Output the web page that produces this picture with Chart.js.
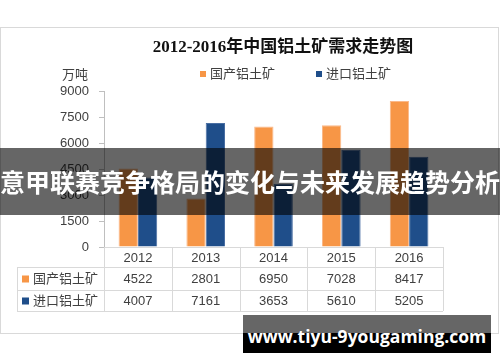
<!DOCTYPE html>
<html>
<head>
<meta charset="utf-8">
<script src="https://cdn.jsdelivr.net/npm/chart.js@4"></script>
<style>
    html, body { margin: 0; padding: 0; background: #fff; }
    #wrap { position: relative; width: 500px; height: 362px; overflow: hidden; }
    #banner {
        position: absolute; left: 0; top: 148px; width: 500px; height: 67px;
        background: rgba(0, 0, 0, 0.6); color: #fff;
        font: bold 25px "Noto Sans CJK SC", sans-serif;
        line-height: 67px; text-align: center; white-space: nowrap;
    }
    #site {
        position: absolute; left: 243px; top: 315px; width: 248px; height: 38px;
        background: linear-gradient(#666 0, #666 18px, #000 18px, #000 100%);
        color: #fff; font: bold 17.5px "Open Sans", sans-serif;
        line-height: 42px; text-align: center; white-space: nowrap;
    }
</style>
</head>
<body>
<div id="wrap">
    <canvas id="chart" width="500" height="362"></canvas>
    <div id="banner">意甲联赛竞争格局的变化与未来发展趋势分析</div>
    <div id="site">www.tiyu-9yougaming.com</div>
</div>
<script>
// Chart data
const years = ['2012', '2013', '2014', '2015', '2016'];
const domesticOre = [4522, 2801, 6950, 7028, 8417];
const importedOre = [4007, 7161, 3653, 5610, 5205];
const seriesNames = ['国产铝土矿', '进口铝土矿'];
const titleText = '2012-2016年中国铝土矿需求走势图';
const unitText = '万吨';

const ORANGE = '#F79646';
const BLUE = '#1F4E8A';
const LINE = '#d9d9d9';
const TEXT = '#404040';
const FONT = '"Liberation Sans", "Noto Sans CJK SC", sans-serif';

// Frame, title, legend and unit label
const decorPlugin = {
    id: 'decor',
    beforeDraw(chart) {
        const ctx = chart.ctx;
        ctx.save();
        ctx.strokeStyle = LINE;
        ctx.lineWidth = 1;
        ctx.strokeRect(0.5, 27.5, 498, 306);

        ctx.fillStyle = '#111';
        ctx.font = 'bold 17px "Liberation Serif", "Noto Sans CJK SC", serif';
        ctx.textAlign = 'center';
        ctx.textBaseline = 'middle';
        ctx.fillText(titleText, 283, 48);

        ctx.font = '13px ' + FONT;
        ctx.textAlign = 'right';
        ctx.fillStyle = TEXT;
        ctx.fillText(unitText, 88, 75);

        const legendX = [200, 316];
        ctx.textAlign = 'left';
        seriesNames.forEach((name, i) => {
            ctx.fillStyle = i === 0 ? ORANGE : BLUE;
            ctx.fillRect(legendX[i], 71, 6, 6);
            ctx.fillStyle = TEXT;
            ctx.fillText(name, legendX[i] + 10, 74);
        });
        ctx.restore();
    },
    // Data table under the plot, aligned to the x scale
    afterDraw(chart) {
        const ctx = chart.ctx;
        const x = chart.scales.x;
        const area = chart.chartArea;
        const half = (area.right - area.left) / years.length / 2;
        const rows = [area.bottom, area.bottom + 20, area.bottom + 43, area.bottom + 64];
        const tableLeft = 17;

        ctx.save();
        ctx.strokeStyle = LINE;
        ctx.lineWidth = 1;
        ctx.beginPath();
        ctx.moveTo(area.left, rows[0] + 0.5);
        ctx.lineTo(area.right, rows[0] + 0.5);
        for (let r = 1; r < rows.length; r++) {
            ctx.moveTo(tableLeft, rows[r] + 0.5);
            ctx.lineTo(area.right, rows[r] + 0.5);
        }
        ctx.moveTo(tableLeft + 0.5, rows[1]);
        ctx.lineTo(tableLeft + 0.5, rows[3]);
        for (let i = 0; i <= years.length; i++) {
            const px = Math.round(area.left + i * half * 2) + 0.5;
            ctx.moveTo(px, rows[0]);
            ctx.lineTo(px, rows[3]);
        }
        ctx.stroke();

        ctx.font = '13px ' + FONT;
        ctx.fillStyle = TEXT;
        ctx.textAlign = 'center';
        ctx.textBaseline = 'middle';
        years.forEach((year, i) => {
            const cx = x.getPixelForValue(i);
            ctx.fillText(year, cx, (rows[0] + rows[1]) / 2 + 1);
            ctx.fillText(String(domesticOre[i]), cx, (rows[1] + rows[2]) / 2 + 1);
            ctx.fillText(String(importedOre[i]), cx, (rows[2] + rows[3]) / 2 + 1);
        });

        ctx.textAlign = 'left';
        seriesNames.forEach((name, i) => {
            const cy = (rows[i + 1] + rows[i + 2]) / 2;
            ctx.fillStyle = i === 0 ? ORANGE : BLUE;
            ctx.fillRect(22, cy - 3, 7, 7);
            ctx.fillStyle = TEXT;
            ctx.fillText(name, 33, cy + 1);
        });
        ctx.restore();
    }
};

const ctx = document.getElementById('chart').getContext('2d');
const chart = new Chart(ctx, {
    type: 'bar',
    data: {
        labels: years,
        datasets: [{
            label: seriesNames[0],
            data: domesticOre,
            backgroundColor: ORANGE,
            borderColor: '#FAB98A',
            borderWidth: 1
        }, {
            label: seriesNames[1],
            data: importedOre,
            backgroundColor: BLUE,
            borderColor: '#4A6FA3',
            borderWidth: 1
        }]
    },
    options: {
        responsive: false,
        animation: false,
        layout: {
            padding: { left: 0, right: 57, top: 91, bottom: 115 }
        },
        plugins: {
            legend: { display: false },
            title: { display: false },
            tooltip: { enabled: false }
        },
        datasets: {
            bar: { categoryPercentage: 0.57, barPercentage: 1 }
        },
        scales: {
            x: { display: false },
            y: {
                min: 0,
                max: 9000,
                afterFit: function(scale) { scale.width = 104; },
                ticks: {
                    stepSize: 1500,
                    padding: 10,
                    color: TEXT,
                    font: { family: FONT, size: 13 },
                    callback: function(value) { return String(value); }
                },
                grid: {
                    drawOnChartArea: false,
                    drawTicks: true,
                    tickLength: 5,
                    color: '#bfbfbf'
                },
                border: { color: '#bfbfbf' }
            }
        }
    },
    plugins: [decorPlugin]
});
</script>
</body>
</html>
